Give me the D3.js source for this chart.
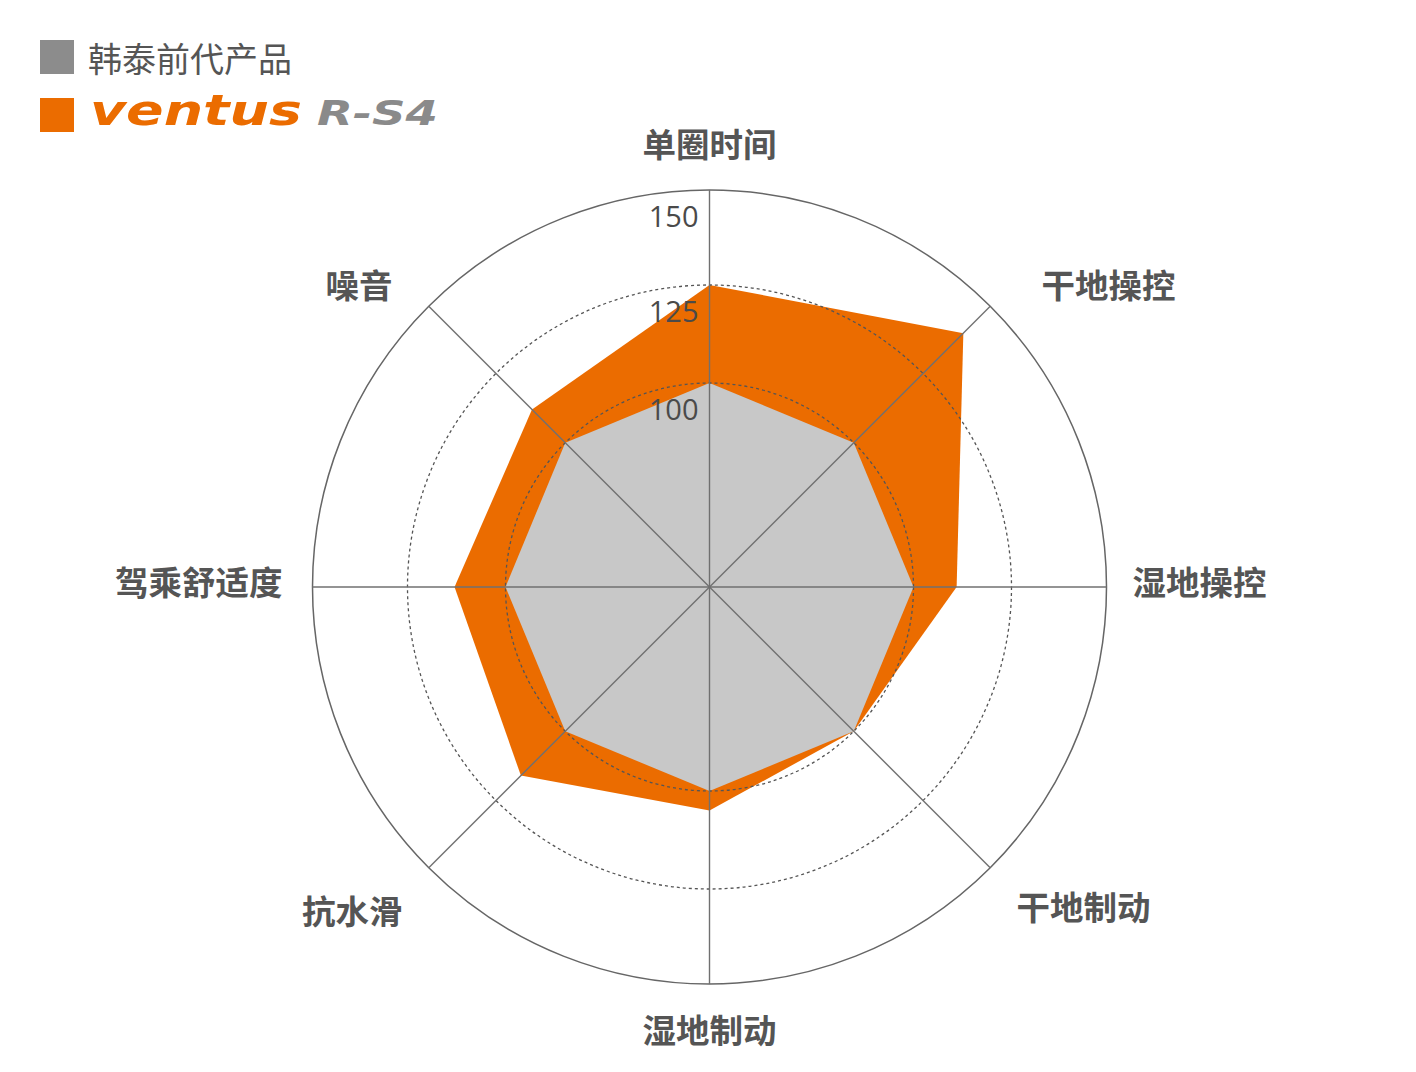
<!DOCTYPE html>
<html>
<head>
<meta charset="utf-8">
<script src="https://cdn.jsdelivr.net/npm/d3@7"></script>
<style>
  html, body { margin: 0; padding: 0; background: #fff; }
  svg { display: block; }
</style>
</head>
<body>
<svg id="chart" width="1416" height="1072"></svg>
<script>
// ---- data ----
const categories = ["单圈时间", "干地操控", "湿地操控", "干地制动", "湿地制动", "抗水滑", "驾乘舒适度", "噪音"];
const previousValues = [100, 100, 100, 100, 100, 100, 100, 100];
const rs4Values = [125, 140, 111, 100, 105, 116, 113, 112];
const tickValues = [100, 125, 150];
const seriesNames = ["韩泰前代产品", "ventus", "R-S4"];

// ---- layout ----
const svg = d3.select("#chart");
const cx = 709.5, cy = 587;
const r = d3.scaleLinear().domain([100, 125, 150]).range([204, 302, 397]);
const R = r(150);
const angle = d3.scaleLinear().domain([0, categories.length]).range([0, 2 * Math.PI]);
const pt = (i, rad) => [cx + rad * Math.sin(angle(i)), cy - rad * Math.cos(angle(i))];

const g = svg.append("g");

const line = d3.line().curve(d3.curveLinearClosed);
// series areas
g.append("path")
  .attr("d", line(rs4Values.map((v, i) => pt(i, r(v)))))
  .attr("fill", "#eb6c00");
g.append("path")
  .attr("d", line(previousValues.map((v, i) => pt(i, r(v)))))
  .attr("fill", "#c8c8c8");

// grid circles
tickValues.forEach(t => {
  const c = g.append("circle").attr("cx", cx).attr("cy", cy).attr("r", r(t)).attr("fill", "none");
  if (t === 150) {
    c.attr("stroke", "#666").attr("stroke-width", 1.5);
  } else {
    c.attr("stroke", "#555").attr("stroke-width", 1.3).attr("stroke-dasharray", "3,3");
  }
});

// spokes
categories.forEach((c, i) => {
  const [x, y] = pt(i, R);
  g.append("line").attr("x1", cx).attr("y1", cy).attr("x2", x).attr("y2", y)
    .attr("stroke", "#707070").attr("stroke-width", 1.4);
});

// tick labels
tickValues.forEach(t => {
  g.append("text")
    .attr("x", cx - 11)
    .attr("y", cy - r(t) + 25)
    .attr("text-anchor", "end")
    .attr("dominant-baseline", "central")
    .attr("font-family", "'Open Sans', 'Noto Sans', sans-serif")
    .attr("font-weight", 400)
    .attr("font-size", 29)
    .attr("fill", "#4a4a4a")
    .text(t);
});

// category labels
const nudges = [[0, -2], [30, -2], [-4, -7], [5, 17], [0, -2], [-5, 21], [0, -7], [-15, -2]];
categories.forEach((c, i) => {
  const a = angle(i);
  const [x, y] = pt(i, R + 30);
  const s = Math.sin(a), co = Math.cos(a);
  let anchor = Math.abs(s) < 1e-6 ? "middle" : (s > 0 ? "start" : "end");
  let yy = y;
  if (Math.abs(s) < 1e-6) yy = y + (co > 0 ? -16 : 16);
  g.append("text")
    .attr("x", x + nudges[i][0])
    .attr("y", yy + nudges[i][1])
    .attr("text-anchor", anchor)
    .attr("dominant-baseline", "central")
    .attr("font-family", "'Noto Sans CJK SC', sans-serif")
    .attr("font-weight", 700)
    .attr("font-size", 33.5)
    .attr("fill", "#555")
    .text(c);
});

// legend
const lg = svg.append("g");
lg.append("rect").attr("x", 40).attr("y", 40).attr("width", 34).attr("height", 34).attr("fill", "#8c8c8c");
lg.append("text").attr("x", 88).attr("y", 57)
  .attr("dominant-baseline", "central")
  .attr("font-family", "'Noto Sans CJK SC', sans-serif")
  .attr("font-weight", 400)
  .attr("font-size", 34)
  .attr("fill", "#555")
  .text(seriesNames[0]);
lg.append("rect").attr("x", 40).attr("y", 98).attr("width", 34).attr("height", 34).attr("fill", "#eb6c00");
lg.append("text").attr("x", 90).attr("y", 125)
  .attr("font-family", "'DejaVu Sans', sans-serif")
  .attr("font-weight", 700)
  .attr("font-style", "italic")
  .attr("font-size", 42)
  .attr("textLength", 212)
  .attr("lengthAdjust", "spacingAndGlyphs")
  .attr("fill", "#eb6c00")
  .text(seriesNames[1]);
lg.append("text").attr("x", 317).attr("y", 125)
  .attr("font-family", "'DejaVu Sans', sans-serif")
  .attr("font-weight", 700)
  .attr("font-style", "italic")
  .attr("font-size", 33)
  .attr("textLength", 121)
  .attr("lengthAdjust", "spacingAndGlyphs")
  .attr("fill", "#8a8a8a")
  .text(seriesNames[2]);
</script>
</body>
</html>
